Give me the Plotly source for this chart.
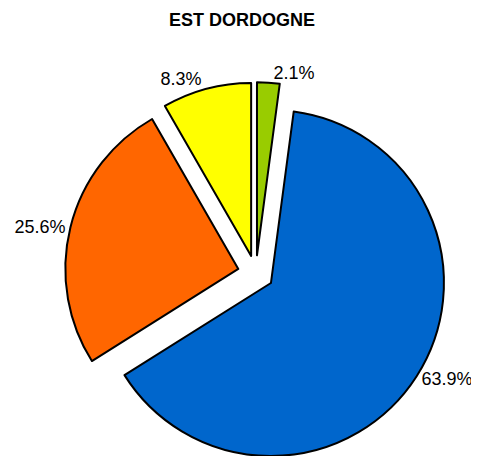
import plotly.graph_objects as go

# Share of each category, in clockwise order starting at 12 o'clock
labels = ["Vert", "Bleu", "Orange", "Jaune"]
values = [2.1, 63.9, 25.6, 8.3]
colors = ["#99CC00", "#0066CC", "#FF6600", "#FFFF00"]

FONT = "Arial, Liberation Sans, sans-serif"
HEIGHT = 470  # a little taller than the window so the pie can run off the bottom

fig = go.Figure(
    go.Pie(
        labels=labels,
        values=values,
        sort=False,
        direction="clockwise",
        rotation=0,
        pull=0.104,  # every slice is pulled out from the centre
        marker=dict(colors=colors, line=dict(color="black", width=2)),
        texttemplate="%{value:.1f}%",
        textposition="outside",
        textfont=dict(family=FONT, size=18, color="black"),
        automargin=False,
        domain=dict(x=[0.1073, 0.9273], y=[0.0292, 0.8419]),
        hoverinfo="label+value",
    )
)

fig.update_layout(
    width=479,
    height=HEIGHT,
    margin=dict(l=0, r=0, t=0, b=0, autoexpand=False),
    paper_bgcolor="white",
    plot_bgcolor="white",
    showlegend=False,
    title=dict(
        text="<b>EST DORDOGNE</b>",
        x=234 / 479,
        xanchor="center",
        y=1 - 11.5 / HEIGHT,
        yanchor="middle",
        font=dict(family=FONT, size=18, color="black"),
    ),
)

fig.write_html("out.html")
